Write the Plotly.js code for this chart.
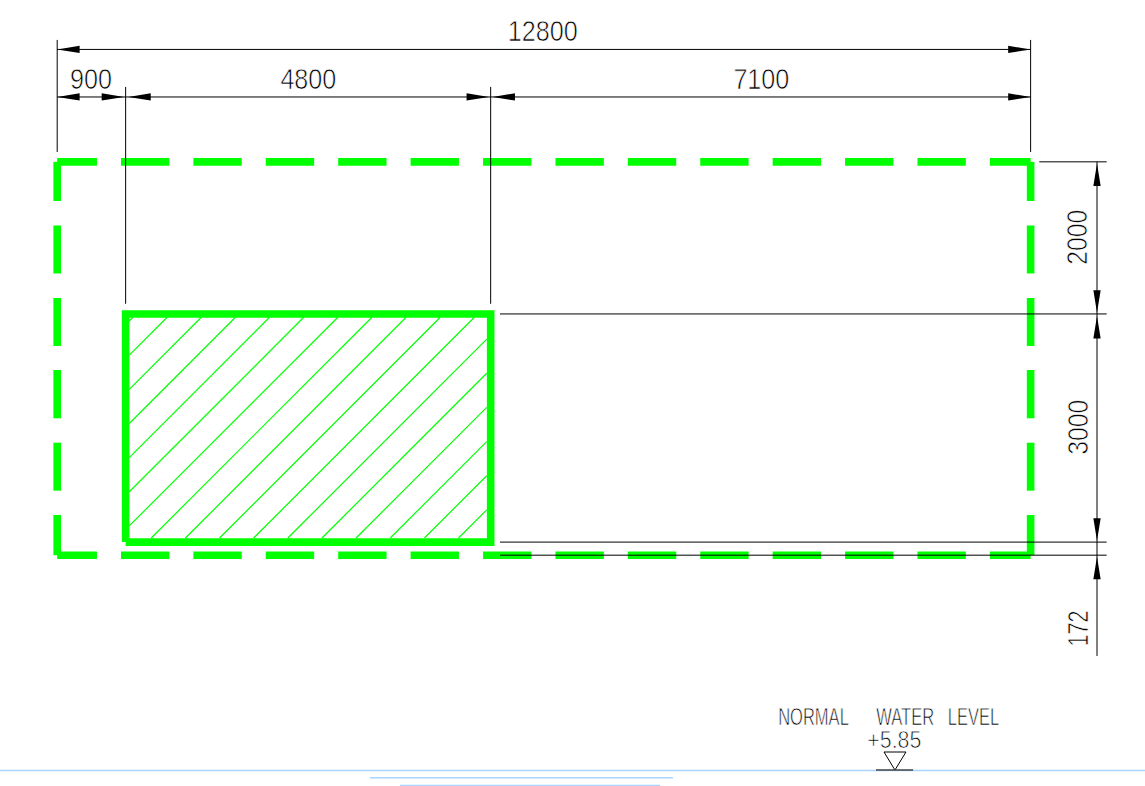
<!DOCTYPE html>
<html>
<head>
<meta charset="utf-8">
<script src="https://cdn.plot.ly/plotly-3.0.1.min.js"></script>
<style>
html,body{margin:0;padding:0;background:#fff;}
#plot text{stroke:#fff;stroke-width:0.75px;}
</style>
</head>
<body>
<div id="plot" style="width:1145px;height:786px;"></div>
<script>
// drawing units (mm): origin = lower-left of the dashed outline
const xRange = [-752, 14304];
const yRange = [-3035, 7300];

const outlineTopBottomStarts = [0, 839, 1791, 2743, 3695, 4647, 5600, 6552, 7504, 8456, 9408, 10360, 11312, 12264];
const outlineTopBottomEnds   = [523, 1475, 2427, 3379, 4331, 5283, 6236, 7188, 8140, 9092, 10044, 10996, 11948, 12800];
const outlineSideStarts = [5172, 4335, 3382, 2435, 1479, 529];
const outlineSideEnds   = [4657, 3704, 2751, 1800, 848, 0];
const outlineLeft = 0, outlineRight = 12800, outlineBottom = 0, outlineTop = 5172;

const boxX = [900, 5700, 5700, 900, 900];
const boxY = [172, 172, 3172, 3172, 172];

const hatchX0 = [948, 948, 948, 948, 948, 948, 948, 1237, 1686, 2135, 2584, 3033, 3482, 3931, 4380, 4829, 5278];
const hatchY0 = [3079, 2630, 2181, 1732, 1283, 834, 385, 226, 226, 226, 226, 226, 226, 226, 226, 226, 226];
const hatchX1 = [997, 1446, 1895, 2344, 2793, 3242, 3691, 4139, 4588, 5037, 5486, 5648, 5648, 5648, 5648, 5648, 5648];
const hatchY1 = [3128, 3128, 3128, 3128, 3128, 3128, 3128, 3128, 3128, 3128, 3128, 2841, 2392, 1943, 1494, 1045, 596];

// thin dimension lines: [x0, y0, x1, y1]
const dimSegX0 = [0, 12800, 900, 5700, 0, 0, 13673, 12914, 5823, 5823, 5823];
const dimSegY0 = [6775, 6775, 6157, 6157, 6650, 6025, 5172, 5172, 3172, 172, 0];
const dimSegX1 = [0, 12800, 900, 5700, 12800, 12800, 13673, 13800, 13800, 13800, 13800];
const dimSegY1 = [5302, 5302, 3306, 3306, 6650, 6025, -1325, 5172, 3172, 172, 0];

// arrow heads: tip position and pointing direction
const arrowTipX = [0, 12800, 0, 880, 935, 5678, 5724, 12800, 13673, 13673, 13673, 13673, 13673];
const arrowTipY = [6650, 6650, 6025, 6025, 6025, 6025, 6025, 6025, 5150, 3188, 3145, 191, -20];
const arrowDirX = [-1, 1, -1, 1, -1, 1, -1, 1, 0, 0, 0, 0, 0];
const arrowDirY = [0, 0, 0, 0, 0, 0, 0, 0, 1, -1, 1, -1, 1];
const arrowLength = 295, arrowHalfWidth = 48;

const levelMarkX = [10872, 11161, 11016, 10872];
const levelMarkY = [-2588, -2588, -2825, -2588];
const levelGroundX = [10767, 11254];
const levelGroundY = [-2825, -2825];

const waterLineX = [-752, 14304, null, 4113, 8097, null, 4508, 7927];
const waterLineY = [-2831, -2831, null, -2926, -2926, null, -3028, -3028];

const labelText = ['12800', '900', '4800', '7100', '2000', '3000', '172', 'NORMAL\u00a0\u00a0\u00a0\u00a0\u00a0\u00a0WATER\u00a0\u00a0\u00a0LEVEL', '+5.85'];
const labelX = [6388, 444, 3304, 9255, 13410, 13410, 13416, 10931, 11016];
const labelY = [6893, 6262, 6262, 6262, 4176, 1679, -957, -2115, -2430];
const labelAngle = [0, 0, 0, 0, -90, -90, -90, 0, 0];
const labelSize = [30, 30, 30, 30, 30, 30, 30, 24, 24];
const labelLength = [70, 42, 56, 56, 55, 55, 36, 221, 54];

const GREEN = '#00ff00', BLACK = '#000000';

function joinSegments(x0, y0, x1, y1) {
  const xs = [], ys = [];
  x0.forEach((_, i) => { xs.push(x0[i], x1[i], null); ys.push(y0[i], y1[i], null); });
  return {xs, ys};
}

const outX = [], outY = [];
outlineTopBottomStarts.forEach((s, i) => {
  outX.push(s, outlineTopBottomEnds[i], null); outY.push(outlineTop, outlineTop, null);
  outX.push(s, outlineTopBottomEnds[i], null); outY.push(outlineBottom, outlineBottom, null);
});
outlineSideStarts.forEach((s, i) => {
  outX.push(outlineLeft, outlineLeft, null); outY.push(s, outlineSideEnds[i], null);
  outX.push(outlineRight, outlineRight, null); outY.push(s, outlineSideEnds[i], null);
});

const hatch = joinSegments(hatchX0, hatchY0, hatchX1, hatchY1);
const dims = joinSegments(dimSegX0, dimSegY0, dimSegX1, dimSegY1);

const arrX = [], arrY = [];
arrowTipX.forEach((tx, i) => {
  const ty = arrowTipY[i], dx = arrowDirX[i], dy = arrowDirY[i];
  const bx = tx - dx * arrowLength, by = ty - dy * arrowLength;
  arrX.push(tx, bx + dy * arrowHalfWidth, bx - dy * arrowHalfWidth, tx, null);
  arrY.push(ty, by + dx * arrowHalfWidth, by - dx * arrowHalfWidth, ty, null);
});

const line = (x, y, color, width) => ({x, y, type: 'scatter', mode: 'lines', hoverinfo: 'skip', showlegend: false, line: {color, width}});

const traces = [
  line(waterLineX, waterLineY, '#a8d4ff', 1.6),
  line(hatch.xs, hatch.ys, GREEN, 1.2),
  line(outX, outY, GREEN, 7.6),
  line(boxX, boxY, GREEN, 7.6),
  line(dims.xs, dims.ys, BLACK, 1),
  line(levelMarkX, levelMarkY, BLACK, 1),
  line(levelGroundX, levelGroundY, '#444444', 1.4),
  {x: arrX, y: arrY, type: 'scatter', mode: 'lines', fill: 'toself', fillcolor: BLACK, hoverinfo: 'skip', showlegend: false, line: {color: BLACK, width: 0}}
];

const annotations = labelText.map((t, i) => ({
  text: t, x: labelX[i], y: labelY[i], xref: 'x', yref: 'y', showarrow: false,
  xanchor: 'center', yanchor: 'middle', textangle: labelAngle[i],
  font: {family: '"Liberation Sans",sans-serif', size: labelSize[i], color: '#000000'}
}));

const hidden = r => ({range: r, autorange: false, visible: false, fixedrange: true, showgrid: false, zeroline: false});

Plotly.newPlot('plot', traces, {
  width: 1145, height: 786,
  margin: {l: 0, r: 0, t: 0, b: 0, pad: 0},
  paper_bgcolor: '#ffffff', plot_bgcolor: '#ffffff',
  xaxis: hidden(xRange), yaxis: hidden(yRange),
  showlegend: false, annotations
}, {displayModeBar: false, staticPlot: true}).then(() => {
  // the reference uses a narrow CAD lettering: condense each label to its measured length
  document.querySelectorAll('#plot .annotation-text').forEach((el, i) => {
    el.setAttribute('textLength', labelLength[i]);
    el.setAttribute('lengthAdjust', 'spacingAndGlyphs');
  });
});
</script>
</body>
</html>
